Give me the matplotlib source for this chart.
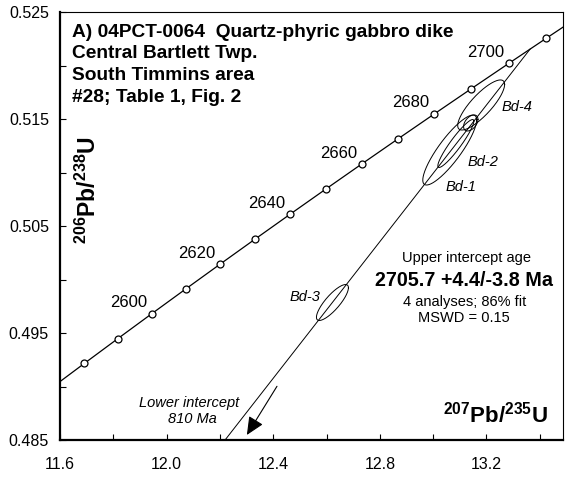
"""Concordia diagram for 04PCT-0064, quartz-phyric gabbro dike."""

import numpy as np
import matplotlib
matplotlib.use("Agg")
import matplotlib.pyplot as plt
from matplotlib.ticker import MultipleLocator, FixedLocator

plt.rcParams["font.family"] = ["Liberation Sans", "DejaVu Sans"]
plt.rcParams["mathtext.fontset"] = "custom"
plt.rcParams["mathtext.rm"] = "Liberation Sans"
plt.rcParams["mathtext.bf"] = "Liberation Sans:bold"

# decay constants (1/yr)
L238 = 1.55125e-10
L235 = 9.8485e-10

# concordia ticks (Ma) and which of them get a label
marker_ages = [2580, 2590, 2600, 2610, 2620, 2630, 2640, 2650,
               2660, 2670, 2680, 2690, 2700, 2710]
label_ages = [2600, 2620, 2640, 2660, 2680, 2700]
line_ages = [2560, 2570] + marker_ages + [2720, 2730]

# discordia intercepts (Ma)
upper_age = 2705.7
lower_age = 810.0

# analyses: 207/235, 206/238, 2-sigma half widths, error correlation
grain = ["Bd-1", "Bd-2", "Bd-3", "Bd-4", ""]
ratio75 = [13.062, 13.085, 12.622, 13.180, 13.141]
ratio68 = [0.51210, 0.51271, 0.49785, 0.51631, 0.51463]
err75 = [0.101, 0.0675, 0.060, 0.088, 0.027]
err68 = [0.00327, 0.00224, 0.00168, 0.00234, 0.00075]
rho = [0.86, 0.93, 0.82, 0.82, 0.45]

title_lines = ["A) 04PCT-0064  Quartz-phyric gabbro dike",
               "Central Bartlett Twp.",
               "South Timmins area",
               "#28; Table 1, Fig. 2"]


def concordia(age_ma):
    t = np.asarray(age_ma, dtype=float) * 1e6
    return np.exp(L235 * t) - 1, np.exp(L238 * t) - 1


def error_ellipse(cx, cy, sx, sy, r, n=200):
    a = np.linspace(0, 2 * np.pi, n)
    x = cx + sx * np.cos(a)
    y = cy + sy * (r * np.cos(a) + np.sqrt(1 - r ** 2) * np.sin(a))
    return x, y


W, H = 566, 478


def fx(px):
    return px / W


def fy(py):
    return 1 - py / H


def main():
    fig = plt.figure(figsize=(W / 100, H / 100), dpi=100)
    ax = fig.add_axes([fx(60), fy(440), fx(563) - fx(60), fy(12) - fy(440)])

    # concordia curve with 10 Ma ticks
    cx, cy = concordia(line_ages)
    ax.plot(cx, cy, color="black", lw=0.9, zorder=2)
    mx, my = concordia(marker_ages)
    ax.plot(mx, my, "o", ms=5, mfc="white", mec="black", mew=0.9, zorder=3)
    for age in label_ages:
        x, y = concordia(age)
        ax.annotate(str(age), (x, y), xytext=(-3.5, 2.5),
                    textcoords="offset points", ha="right", va="bottom",
                    fontsize=12)

    # discordia between the two intercepts
    dx, dy = concordia([lower_age, upper_age])
    ax.plot(dx, dy, color="black", lw=0.7, zorder=2)

    # error ellipses
    for i in range(len(grain)):
        ex, ey = error_ellipse(ratio75[i], ratio68[i], err75[i], err68[i], rho[i])
        ax.plot(ex, ey, color="black", lw=0.7, zorder=4)

    # arrow toward the lower intercept
    ax.annotate("", xy=(12.301, 0.48547), xytext=(12.414, 0.49002),
                arrowprops=dict(arrowstyle="-|>,head_length=1.1,head_width=0.5",
                                mutation_scale=10, color="black", lw=0.8,
                                shrinkA=0, shrinkB=0))

    ax.set_xlim(11.6, 13.487)
    ax.set_ylim(0.485, 0.525)

    ax.xaxis.set_major_locator(FixedLocator([11.6, 12.0, 12.4, 12.8, 13.2]))
    ax.xaxis.set_minor_locator(MultipleLocator(0.2))
    ax.yaxis.set_major_locator(FixedLocator([0.485, 0.495, 0.505, 0.515, 0.525]))
    ax.yaxis.set_minor_locator(MultipleLocator(0.005))
    ax.set_xticklabels(["11.6", "12.0", "12.4", "12.8", "13.2"])
    ax.set_yticklabels(["0.485", "0.495", "0.505", "0.515", "0.525"])
    ax.tick_params(which="both", direction="in", length=4, width=0.8,
                   labelsize=11.5)
    ax.tick_params(axis="x", pad=12)
    ax.tick_params(axis="y", pad=8)

    for side in ("left", "bottom"):
        ax.spines[side].set_linewidth(1.6)
    for side in ("top", "right"):
        ax.spines[side].set_linewidth(0.8)

    # axis titles drawn inside the frame
    fig.text(fx(548), fy(422), r"$\mathbf{^{207}Pb/^{235}U}$", fontsize=16,
             ha="right", va="baseline")
    fig.text(fx(88), fy(190), r"$\mathbf{^{206}Pb/^{238}U}$", fontsize=16.5,
             ha="center", va="center", rotation=90)

    # sample heading, one line at a time
    for i, line in enumerate(title_lines):
        fig.text(fx(72), fy(37 + 21.5 * i), line, fontsize=13.8,
                 fontweight="bold", ha="left", va="baseline")

    # grain labels
    label_pos = {"Bd-1": (461, 187), "Bd-2": (483, 162),
                 "Bd-3": (305, 297), "Bd-4": (517, 107)}
    for name, (px, py) in label_pos.items():
        fig.text(fx(px), fy(py), name, fontsize=10.5, style="italic",
                 ha="center", va="center")

    fig.text(fx(466), fy(258), "Upper intercept age", fontsize=10.5,
             ha="center", va="center")
    fig.text(fx(464), fy(280), "2705.7 +4.4/-3.8 Ma", fontsize=14.2,
             fontweight="bold", ha="center", va="center")
    fig.text(fx(465), fy(302), "4 analyses; 86% fit", fontsize=10.5,
             ha="center", va="center")
    fig.text(fx(464), fy(318), "MSWD = 0.15", fontsize=10.5,
             ha="center", va="center")

    fig.text(fx(189), fy(403), "Lower intercept", fontsize=10.5,
             style="italic", ha="center", va="center")
    fig.text(fx(192), fy(419), "810 Ma", fontsize=10.5,
             style="italic", ha="center", va="center")

    fig.savefig("out.png", dpi=100)


if __name__ == "__main__":
    main()
